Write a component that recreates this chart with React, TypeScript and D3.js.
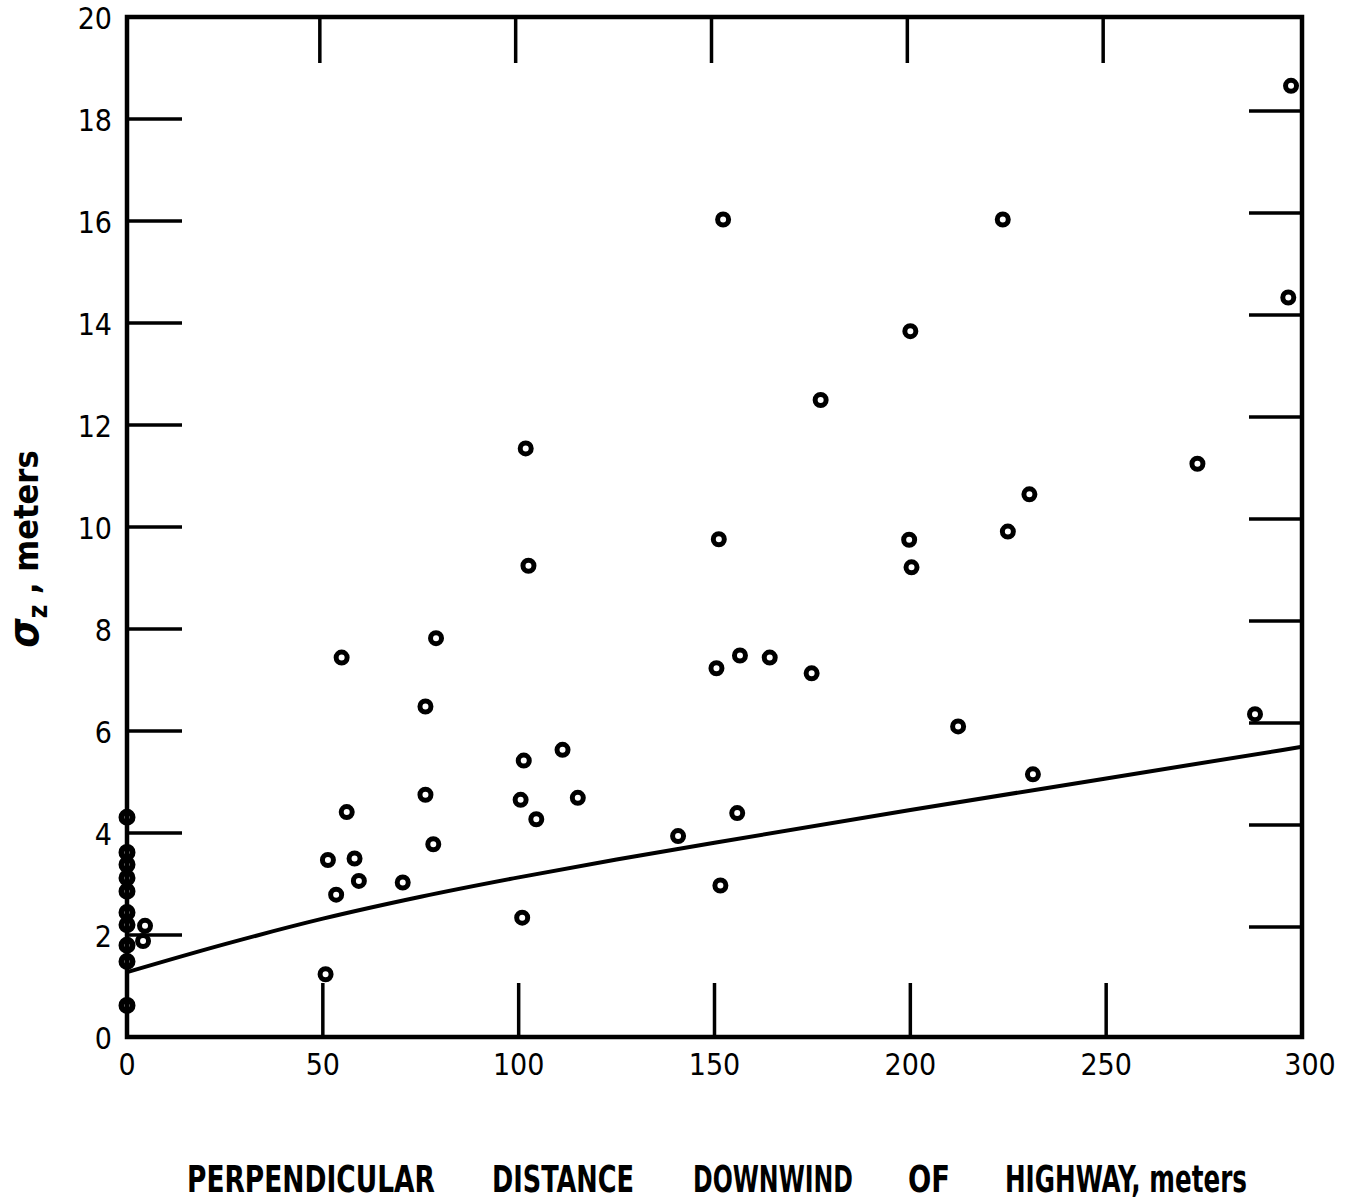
import React, { useRef, useEffect } from 'react';
import * as d3 from 'd3';

// distance downwind (m), sigma z (m)
const observations: [number, number][] = [
    [0, 4.31], [0, 3.62], [0, 3.38], [0, 3.12], [0, 2.86], [0, 2.44], [0, 2.2], [0, 1.8], [0, 1.48], [0, 0.62],
    [4.6, 2.18], [4.1, 1.88],
    [50.7, 1.23], [51.3, 3.47], [53.4, 2.79], [54.8, 7.44], [56.1, 4.41], [58.1, 3.5], [59.2, 3.06],
    [70.4, 3.03], [76.2, 6.48], [76.2, 4.75], [78.2, 3.78], [78.9, 7.82],
    [100.5, 4.65], [100.9, 2.34], [101.3, 5.42], [101.8, 11.54], [102.5, 9.24], [104.5, 4.27],
    [111.2, 5.63], [115.1, 4.69],
    [140.7, 3.94], [150.5, 7.23], [151.1, 9.76], [151.5, 2.97], [152.2, 16.03], [155.8, 4.39],
    [156.5, 7.48], [164.1, 7.44], [174.8, 7.13], [177.1, 12.49],
    [199.7, 9.75], [200.0, 13.84], [200.3, 9.21], [212.2, 6.09], [223.6, 16.03], [224.9, 9.91],
    [230.4, 10.64], [231.3, 5.15], [273.3, 11.24], [288.0, 6.33], [296.5, 14.5], [297.2, 18.65],
];

// fitted curve
const fitCurve: [number, number][] = [
    [0, 1.27], [25, 1.82], [50, 2.32], [75, 2.75], [100, 3.13], [125, 3.48],
    [150, 3.81], [200, 4.45], [250, 5.07], [300, 5.69],
];

const xTicks = [0, 50, 100, 150, 200, 250, 300];
const yTicks = [0, 2, 4, 6, 8, 10, 12, 14, 16, 18, 20];

const xTitleWords = ['PERPENDICULAR', 'DISTANCE', 'DOWNWIND', 'OF', 'HIGHWAY, meters'];

const FONT = "'DejaVu Sans Condensed', 'DejaVu Sans', sans-serif";

export default function App() {
    const svg_ref = useRef(null);

    useEffect(() => {
        const svg = d3.select(svg_ref.current);
        svg.selectAll('*').remove();

        const x = d3.scaleLinear([0, 300], [127, 1302]);
        const y = d3.scaleLinear([0, 20], [1037, 17]);

        svg.append('rect')
            .attr('width', 1349)
            .attr('height', 1203)
            .attr('fill', '#fff');

        // frame
        svg.append('rect')
            .attr('x', x(0))
            .attr('y', y(20))
            .attr('width', x(300) - x(0))
            .attr('height', y(0) - y(20))
            .attr('fill', 'none')
            .attr('stroke', '#000')
            .attr('stroke-width', 4.5);

        const inner_y = yTicks.filter((d) => d > 0 && d < 20);
        const inner_x = xTicks.filter((d) => d > 0 && d < 300);

        const ticks = svg.append('g').attr('stroke', '#000').attr('stroke-width', 3.5);

        ticks.append('g')
            .selectAll('line')
            .data(inner_y)
            .join('line')
            .attr('x1', x(0))
            .attr('x2', x(0) + 55)
            .attr('y1', (d) => y(d))
            .attr('y2', (d) => y(d));

        // right-hand ticks sit a little high in the original drawing
        ticks.append('g')
            .attr('transform', 'translate(0,-8)')
            .selectAll('line')
            .data(inner_y)
            .join('line')
            .attr('x1', x(300) - 53)
            .attr('x2', x(300))
            .attr('y1', (d) => y(d))
            .attr('y2', (d) => y(d));

        ticks.append('g')
            .selectAll('line')
            .data(inner_x)
            .join('line')
            .attr('x1', (d) => x(d) - 3)
            .attr('x2', (d) => x(d) - 3)
            .attr('y1', y(20))
            .attr('y2', y(20) + 46);

        ticks.append('g')
            .selectAll('line')
            .data(inner_x)
            .join('line')
            .attr('x1', (d) => x(d))
            .attr('x2', (d) => x(d))
            .attr('y1', y(0))
            .attr('y2', y(0) - 54);

        // tick labels
        svg.append('g')
            .attr('font-family', FONT)
            .attr('font-size', 30)
            .attr('text-anchor', 'end')
            .selectAll('text')
            .data(yTicks)
            .join('text')
            .attr('x', 112)
            .attr('y', (d) => y(d) + 12)
            .text((d) => d);

        svg.append('g')
            .attr('font-family', FONT)
            .attr('font-size', 30)
            .attr('text-anchor', 'middle')
            .selectAll('text')
            .data(xTicks)
            .join('text')
            .attr('x', (d) => x(d) + (d === 300 ? 8 : 0))
            .attr('y', 1075)
            .text((d) => d);

        // fitted line
        const line = d3
            .line()
            .x((d) => x(d[0]))
            .y((d) => y(d[1]))
            .curve(d3.curveMonotoneX);

        svg.append('path')
            .datum(fitCurve)
            .attr('fill', 'none')
            .attr('stroke', '#000')
            .attr('stroke-width', 4)
            .attr('d', line);

        // observations
        svg.append('g')
            .selectAll('circle')
            .data(observations)
            .join('circle')
            .attr('cx', (d) => x(d[0]))
            .attr('cy', (d) => y(d[1]))
            .attr('r', (d) => (d[0] === 0 ? 5.5 : 5.5))
            .attr('fill', 'none')
            .attr('stroke', '#000')
            .attr('stroke-width', (d) => (d[0] === 0 ? 6 : 5));

        // y title
        const yt = svg.append('text')
            .attr('transform', 'translate(38,549) rotate(-90)')
            .attr('font-family', FONT)
            .attr('font-weight', 'bold')
            .attr('font-size', 34)
            .attr('text-anchor', 'middle');
        yt.append('tspan').attr('font-style', 'italic').attr('font-size', 42).text('σ');
        yt.append('tspan').attr('font-size', 26).attr('dy', 9).text('z');
        yt.append('tspan').attr('dy', -9).text('  ,  meters');

        // x title, tall condensed lettering
        const word_spans = [
            [187, 248], [492, 142], [693, 160], [908, 42], [1005, 242],
        ];
        svg.append('g')
            .attr('font-family', FONT)
            .attr('font-weight', 'bold')
            .attr('font-size', 29)
            .selectAll('text')
            .data(xTitleWords)
            .join('text')
            .attr('transform', (_, i) => `translate(${word_spans[i][0]},1192) scale(1,1.3)`)
            .attr('textLength', (_, i) => word_spans[i][1])
            .attr('lengthAdjust', 'spacingAndGlyphs')
            .text((d) => d);
    }, []);

    return (
        <svg
            ref={svg_ref}
            width={1349}
            height={1203}
            style={{ position: 'absolute', left: 0, top: 0 }}
        ></svg>
    );
}
